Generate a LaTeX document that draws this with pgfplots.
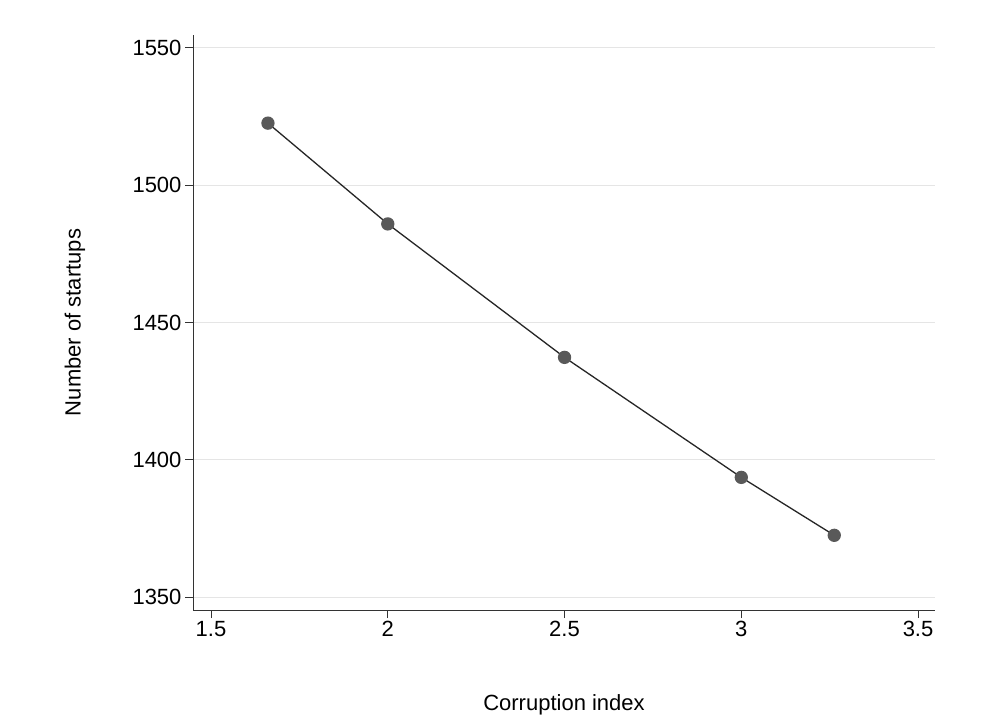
\documentclass[border=0pt]{standalone}
\usepackage{pgfplots}
\pgfplotsset{compat=1.18}
\usepackage{fontspec}
\setmainfont{Liberation Sans}
\begin{document}
\begin{tikzpicture}
\useasboundingbox[fill=white] (0,0) rectangle (984pt,720pt);
\begin{axis}[
  at={(193pt,110pt)}, anchor=south west,
  scale only axis, width=742pt, height=575pt,
  xmin=1.449, xmax=3.548, ymin=1345.3, ymax=1554.7,
  xtick={1.5,2,2.5,3,3.5}, ytick={1350,1400,1450,1500,1550},
  axis x line*=bottom, axis y line*=left,
  axis line style={black!80, line width=1pt},
  tick align=outside, major tick length=8pt,
  tick style={black!80, line width=1pt},
  ymajorgrids, grid style={black!10, line width=1pt},
  /pgf/number format/assume math mode=true,
  /pgf/number format/1000 sep={},
  ticklabel style={font=\fontsize{22}{24}\selectfont},
  every axis x label/.style={at={(axis description cs:0.5,0)}, anchor=center, yshift=-95pt, font=\fontsize{22}{24}\selectfont},
  every axis y label/.style={at={(axis description cs:0,0.5)}, anchor=center, rotate=90, yshift=118pt, font=\fontsize{22}{24}\selectfont},
  xlabel={Corruption index}, ylabel={Number of startups},
]
\addplot[black!85, line width=1.3pt, mark=*, mark size=6pt, mark options={fill=black!65, draw=black!65}]
 coordinates {(1.661,1522.6) (2,1485.9) (2.5,1437.3) (3,1393.6) (3.263,1372.5)};
\end{axis}
\end{tikzpicture}
\end{document}
